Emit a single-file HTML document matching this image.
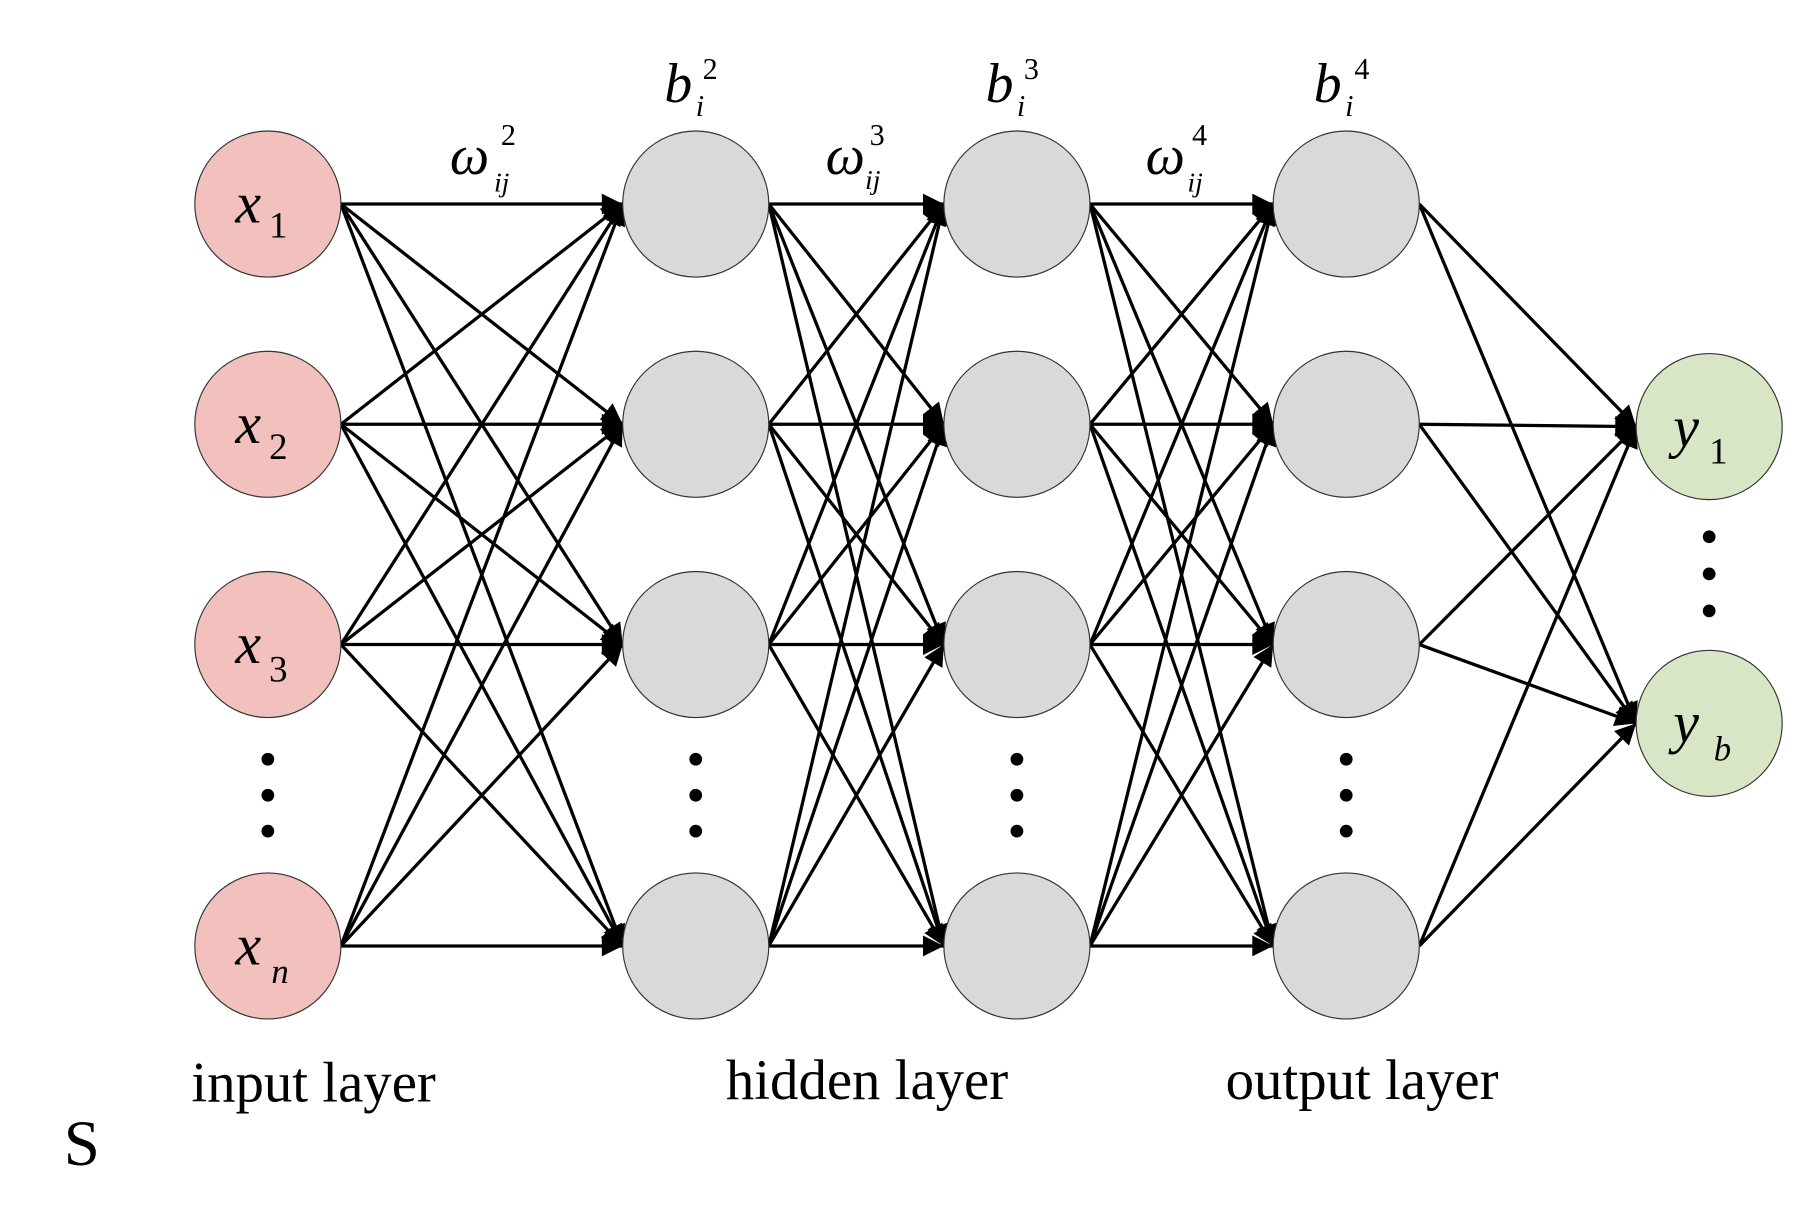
<!DOCTYPE html>
<html><head><meta charset="utf-8"><style>
html,body{margin:0;padding:0;background:#fff;}
svg{display:block;}
text{font-family:"Liberation Serif",serif;fill:#000;}
</style></head><body>
<svg id="s" width="1817" height="1223" viewBox="0 0 1567 1055" preserveAspectRatio="none" xmlns="http://www.w3.org/2000/svg">
<defs>
<marker id="b" viewBox="0 0 10 10" refX="10" refY="5" markerWidth="26" markerHeight="18" orient="auto" markerUnits="userSpaceOnUse"><path d="M0,0 L10,5 L0,10 z" fill="#000"/></marker></defs>
<g id="edges" stroke="#000" stroke-width="2.8" fill="none"></g>
<g id="nodes"></g>
<g font-style="italic">
<text x="203" y="192" font-size="50">x</text><text x="232" y="205" font-size="32" font-style="normal">1</text>
<text x="203" y="382" font-size="50">x</text><text x="232" y="396" font-size="32" font-style="normal">2</text>
<text x="203" y="572" font-size="50">x</text><text x="232" y="588" font-size="32" font-style="normal">3</text>
<text x="203" y="832" font-size="50">x</text><text x="234" y="848" font-size="30">n</text>
<text x="1443" y="385" font-size="50">y</text><text x="1474" y="400" font-size="32" font-style="normal">1</text>
<text x="1443" y="640" font-size="50">y</text><text x="1478" y="656" font-size="30">b</text>
<text x="573" y="88" font-size="48">b</text><text x="600" y="100" font-size="26">i</text><text x="606" y="68" font-size="26" font-style="normal">2</text>
<text x="850" y="88" font-size="48">b</text><text x="877" y="100" font-size="26">i</text><text x="883" y="68" font-size="26" font-style="normal">3</text>
<text x="1133" y="88" font-size="48">b</text><text x="1160" y="100" font-size="26">i</text><text x="1168" y="68" font-size="26" font-style="normal">4</text>
<text x="388" y="150" font-size="48">ω</text><text x="426" y="165" font-size="24">ij</text><text x="432" y="125" font-size="26" font-style="normal">2</text>
<text x="712" y="150" font-size="48">ω</text><text x="746" y="163" font-size="24">ij</text><text x="750" y="125" font-size="26" font-style="normal">3</text>
<text x="988" y="150" font-size="48">ω</text><text x="1024" y="165" font-size="24">ij</text><text x="1028" y="125" font-size="26" font-style="normal">4</text>
</g>
<text x="165" y="950" font-size="49">input layer</text>
<text x="626" y="948" font-size="49">hidden layer</text>
<text x="1057" y="948" font-size="49">output layer</text>
<text x="55" y="1005" font-size="56">S</text>
</svg>
<script>
var NS="http://www.w3.org/2000/svg",R=63;
var cols=[231,600,877,1161],ys=[176,366,556,816];
var E=document.getElementById("edges"),N=document.getElementById("nodes");
function line(x1,y1,x2,y2){
var l=document.createElementNS(NS,"line");l.setAttribute("x1",x1+R);l.setAttribute("y1",y1);
l.setAttribute("x2",x2-R);l.setAttribute("y2",y2);
l.setAttribute("marker-end","url(#b)");E.appendChild(l);}
for(var c=0;c<3;c++)for(var i=0;i<4;i++)for(var j=0;j<4;j++)line(cols[c],ys[i],cols[c+1],ys[j]);
var oy=[368,624];for(var i=0;i<4;i++)for(var j=0;j<2;j++)line(1161,ys[i],1474,oy[j]);
function circ(x,y,f){var e=document.createElementNS(NS,"circle");e.setAttribute("cx",x);e.setAttribute("cy",y);e.setAttribute("r",R);
e.setAttribute("fill",f);e.setAttribute("stroke","#333");e.setAttribute("stroke-width","1");N.appendChild(e);}
function dot(x,y){var e=document.createElementNS(NS,"circle");e.setAttribute("cx",x);e.setAttribute("cy",y);e.setAttribute("r",5.5);e.setAttribute("fill","#000");N.appendChild(e);}
cols.forEach(function(x,c){ys.forEach(function(y){circ(x,y,c==0?"#f2c0bd":"#d9d9d9");});[655,686,717].forEach(function(y){dot(x,y);});});
circ(1474,368,"#d8e6c5");circ(1474,624,"#d8e6c5");[463,495,527].forEach(function(y){dot(1474,y);});
</script>
</body></html>
